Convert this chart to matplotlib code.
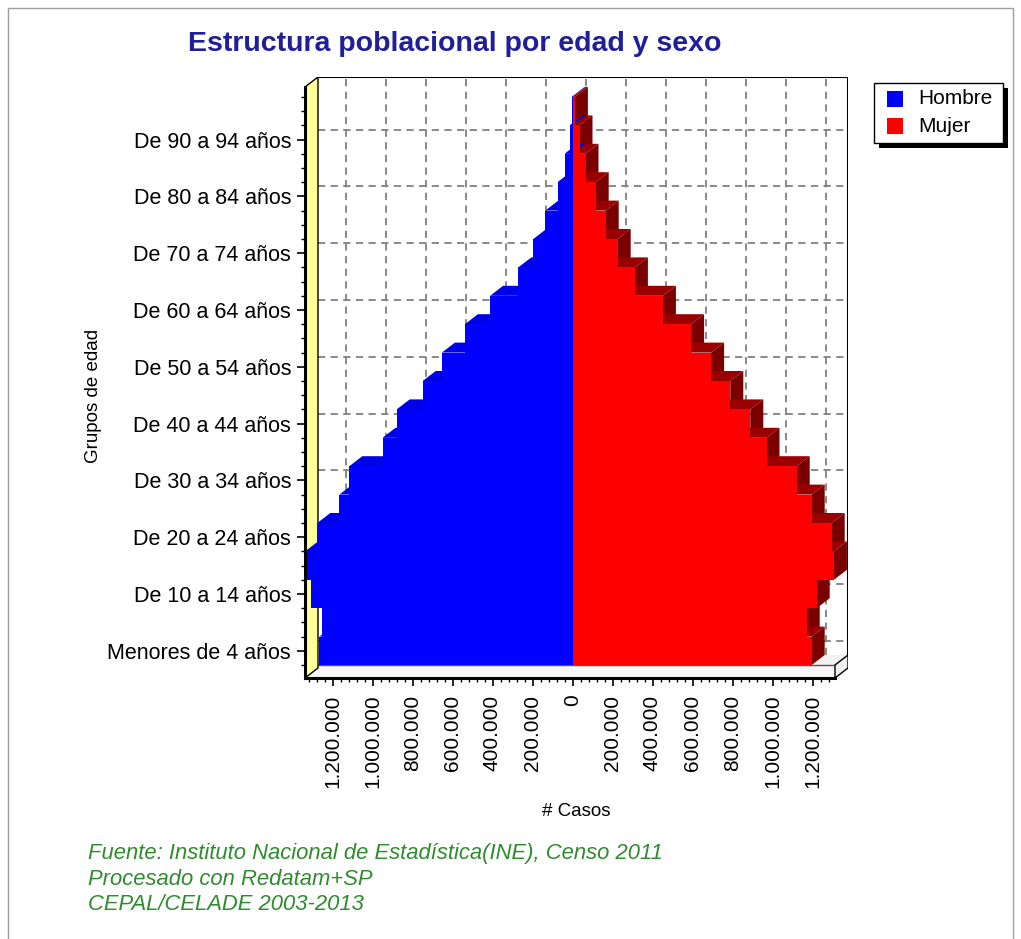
import matplotlib
matplotlib.use("Agg")
import matplotlib.pyplot as plt
from matplotlib.patches import Polygon, Rectangle
import numpy as np

plt.rcParams['font.family'] = ['Liberation Sans', 'DejaVu Sans']

# datos (censo 2011), grupos quinquenales de abajo hacia arriba
grupos = ['Menores de 4 años', 'De 5 a 9 años', 'De 10 a 14 años', 'De 15 a 19 años',
          'De 20 a 24 años', 'De 25 a 29 años', 'De 30 a 34 años', 'De 35 a 39 años',
          'De 40 a 44 años', 'De 45 a 49 años', 'De 50 a 54 años', 'De 55 a 59 años',
          'De 60 a 64 años', 'De 65 a 69 años', 'De 70 a 74 años', 'De 75 a 79 años',
          'De 80 a 84 años', 'De 85 a 89 años', 'De 90 a 94 años', 'De 95 a 99 años']
hombres = [1266000, 1251000, 1307000, 1337000, 1276000, 1166000, 1116000, 950000,
           879000, 749000, 653000, 538000, 412000, 271000, 196000, 136000,
           75000, 40000, 15000, 5000]
mujeres = [1196000, 1171000, 1221000, 1307000, 1296000, 1196000, 1121000, 970000,
           889000, 789000, 693000, 593000, 452000, 312000, 226000, 166000,
           116000, 65000, 35000, 12000]
xticks = np.arange(-1200000, 1200001, 200000)

W, H = 1021, 939
fig = plt.figure(figsize=(W / 100, H / 100), dpi=100)

# caja 3D: plano frontal + profundidad
XL, XR = -1337500, 1312500
DX = 13 * 5000          # desplazamiento de profundidad en x
DY = 10 / 28.4          # desplazamiento de profundidad en y
Y0 = -0.5
FT = 13 / 28.4          # grosor del piso
YT = Y0 + 578 / 28.4

px_l, px_r, px_t, px_b = 305, 848, 77, 678
ax = fig.add_axes([px_l / W, 1 - px_b / H, (px_r - px_l) / W, (px_b - px_t) / H])
ax.set_xlim(XL, XR + DX)
ax.set_ylim(Y0 - FT, YT + DY)
ax.set_facecolor('white')

# pared del fondo con rejilla
grid_kw = dict(color='#808080', lw=1.3, dashes=(4, 3), zorder=0.5)
for t in xticks:
    ax.plot([t + DX, t + DX], [Y0 + DY, YT + DY], **grid_kw)
yidx = np.arange(len(grupos))
for y in yidx[::2]:
    ax.plot([XL + DX, XR + DX], [y + DY, y + DY], **grid_kw)
ax.plot([XL + DX, XR + DX], [YT + DY, YT + DY], color='black', lw=1.5, zorder=4)
ax.plot([XR + DX, XR + DX], [Y0 - FT + DY, YT + DY], color='black', lw=1.5, zorder=4)

# piso
ax.add_patch(Polygon([(XL, Y0), (XR, Y0), (XR + DX, Y0 + DY), (XL + DX, Y0 + DY)],
                     closed=True, fc='#f2f2f2', ec='none', zorder=1))
ax.add_patch(Rectangle((XL, Y0 - FT), XR - XL, FT, fc='#f7f7f7', ec='none', zorder=1))
ax.add_patch(Polygon([(XR, Y0 - FT), (XR + DX, Y0 - FT + DY), (XR + DX, Y0 + DY), (XR, Y0)],
                     closed=True, fc='#f0f0f0', ec='black', lw=1, zorder=4))
ax.plot([XL, XR], [Y0, Y0], color='#555555', lw=1, zorder=1.1)

# pared izquierda amarilla
ax.add_patch(Polygon([(XL, Y0 - FT), (XL, YT), (XL + DX, YT + DY), (XL + DX, Y0 - FT + DY)],
                     closed=True, fc='#ffff99', ec='black', lw=1, zorder=1.5))

# caras 3D de las barras
for i in range(len(grupos) - 1, -1, -1):
    y0, y1 = i - 0.5, i + 0.5
    m, h = mujeres[i], hombres[i]
    ax.add_patch(Polygon([(-h, y1), (0, y1), (DX, y1 + DY), (-h + DX, y1 + DY)],
                         closed=True, fc='#0000e8', ec='none', zorder=2))
    ax.add_patch(Polygon([(0, y1), (m, y1), (m + DX, y1 + DY), (DX, y1 + DY)],
                         closed=True, fc='#9a0000', ec='none', zorder=2))
    ax.add_patch(Polygon([(m, y0), (m + DX, y0 + DY), (m + DX, y1 + DY), (m, y1)],
                         closed=True, fc='#7a0000', ec='none', zorder=2))

ax.barh(yidx, [-v for v in hombres], height=1.0, color='#0000ff', zorder=3, label='Hombre')
ax.barh(yidx, mujeres, height=1.0, color='#ff0000', zorder=3, label='Mujer')

# ejes
for s in ['top', 'right']:
    ax.spines[s].set_visible(False)
ax.spines['left'].set_linewidth(2.2)
ax.spines['bottom'].set_linewidth(2.2)
ax.spines['left'].set_bounds(Y0 - FT, YT)
ax.spines['bottom'].set_bounds(XL, XR)
ax.spines['left'].set_zorder(5)
ax.spines['bottom'].set_zorder(5)

ax.set_xticks(xticks)
ax.set_xticklabels([f"{abs(int(v)):,}".replace(',', '.') for v in xticks])
ax.set_xticks(np.arange(-1320000, XR, 40000), minor=True)
ax.set_yticks(yidx[::2])
ax.set_yticklabels(grupos[::2])
ax.set_yticks(np.arange(-0.5, len(grupos), 0.5), minor=True)
ax.tick_params(axis='x', which='major', length=6, width=1.2, pad=6, labelsize=15, labelrotation=90)
ax.tick_params(axis='x', which='minor', length=3, width=1)
ax.tick_params(axis='y', which='major', length=6, width=1.2, pad=4, labelsize=15.5)
ax.tick_params(axis='y', which='minor', length=3, width=1)

# textos
fig.text(455 / W, 1 - 44 / H, 'Estructura poblacional por edad y sexo', ha='center', va='center',
         fontsize=20.5, fontweight='bold', color='#1f1f99')
fig.text(93 / W, 1 - 396 / H, 'Grupos de edad', rotation=90, ha='center', va='center', fontsize=13.5)
fig.text(576 / W, 1 - 812 / H, '# Casos', ha='center', va='center', fontsize=13.5)
pie = ['Fuente: Instituto Nacional de Estadística(INE), Censo 2011',
       'Procesado con Redatam+SP',
       'CEPAL/CELADE 2003-2013']
for k, linea in enumerate(pie):
    fig.text(88 / W, 1 - (854 + 25.5 * k) / H, linea, ha='left', va='center',
             fontsize=15.8, fontstyle='italic', color='#2e8b2e')

# leyenda con sombra
def fig_rect(x0, y0, x1, y1, **kw):
    fig.add_artist(Rectangle((x0 / W, 1 - y1 / H), (x1 - x0) / W, (y1 - y0) / H,
                             transform=fig.transFigure, **kw))

fig_rect(879, 88, 1008, 148, fc='black', ec='none')
fig_rect(874, 83, 1003, 143, fc='white', ec='black', lw=1)
fig_rect(887, 91, 903, 107, fc='#0000ff', ec='none')
fig_rect(887, 118, 903, 134, fc='#ff0000', ec='none')
fig.text(918 / W, 1 - 99 / H, 'Hombre', ha='left', va='center', fontsize=15)
fig.text(918 / W, 1 - 126 / H, 'Mujer', ha='left', va='center', fontsize=15)

# marco exterior
fig_rect(8, 8, 1013, 945, fill=False, ec='#a0a0a0', lw=1)

fig.savefig('out.png', dpi=100)
